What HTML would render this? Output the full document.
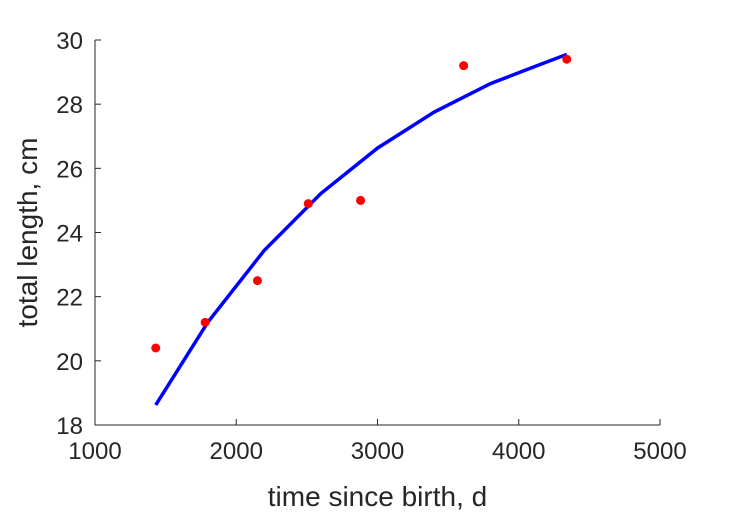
<!DOCTYPE html>
<html><head><meta charset="utf-8"><style>
html,body{margin:0;padding:0;background:#fff;}
svg{display:block;font-family:"Liberation Sans",sans-serif;}
</style></head><body>
<svg id="chart" width="729" height="521"></svg>
<script>
const xTicks=[1000,2000,3000,4000,5000];
const yTicks=[18,20,22,24,26,28,30];
const obsT=[1430,1780,2150,2510,2880,3610,4340];
const obsL=[20.4,21.2,22.5,24.9,25.0,29.2,29.4];
const fitT=[1430,1800,2200,2600,3000,3400,3800,4100,4340];
const fitL=[18.62,21.21,23.45,25.22,26.63,27.75,28.64,29.15,29.55];
const NS='http://www.w3.org/2000/svg';
const svg=document.getElementById('chart');
const X0=95,X1=660,Y0=425,Y1=40;
const sx=v=>X0+(v-1000)/4000*(X1-X0);
const sy=v=>Y0-(v-18)/12*(Y0-Y1);
function mk(t,a){const e=document.createElementNS(NS,t);for(const k in a)e.setAttribute(k,a[k]);svg.appendChild(e);return e;}
let ax=mk('path',{d:`M${X0},${Y1}V${Y0}H${X1}`,fill:'none',stroke:'#262626','stroke-width':1});


xTicks.forEach(v=>{
 let l=mk('line',{x1:sx(v),x2:sx(v),y1:Y0,y2:Y0-6,stroke:'#262626'});
 
 
 let t=mk('text',{x:sx(v),y:Y0+34,'text-anchor':'middle','font-size':24,fill:'#262626'});t.textContent=v;
 
 
});
yTicks.forEach(v=>{
 let l=mk('line',{x1:X0,x2:X0+6,y1:sy(v),y2:sy(v),stroke:'#262626'});
 
 
 let t=mk('text',{x:X0-12,y:sy(v)+9,'text-anchor':'end','font-size':24,fill:'#262626'});t.textContent=v;
 
 
});
let xt=mk('text',{x:(X0+X1)/2,y:506,'text-anchor':'middle','font-size':28,fill:'#262626'});xt.textContent='time since birth, d';


let yt=mk('text',{x:0,y:0,transform:`translate(37,${(Y0+Y1)/2}) rotate(-90)`,'text-anchor':'middle','font-size':28,fill:'#262626'});yt.textContent='total length, cm';


let d=fitT.map((t,i)=>(i?'L':'M')+sx(t).toFixed(1)+','+sy(fitL[i]).toFixed(1)).join('');
let fl=mk('path',{d:d,fill:'none',stroke:'#0000ff','stroke-width':3.5});


obsT.forEach((t,i)=>{
 let c=mk('circle',{cx:sx(t),cy:sy(obsL[i]),r:4.5,fill:'#ff0000'});
 
 
});
</script>
</body></html>
